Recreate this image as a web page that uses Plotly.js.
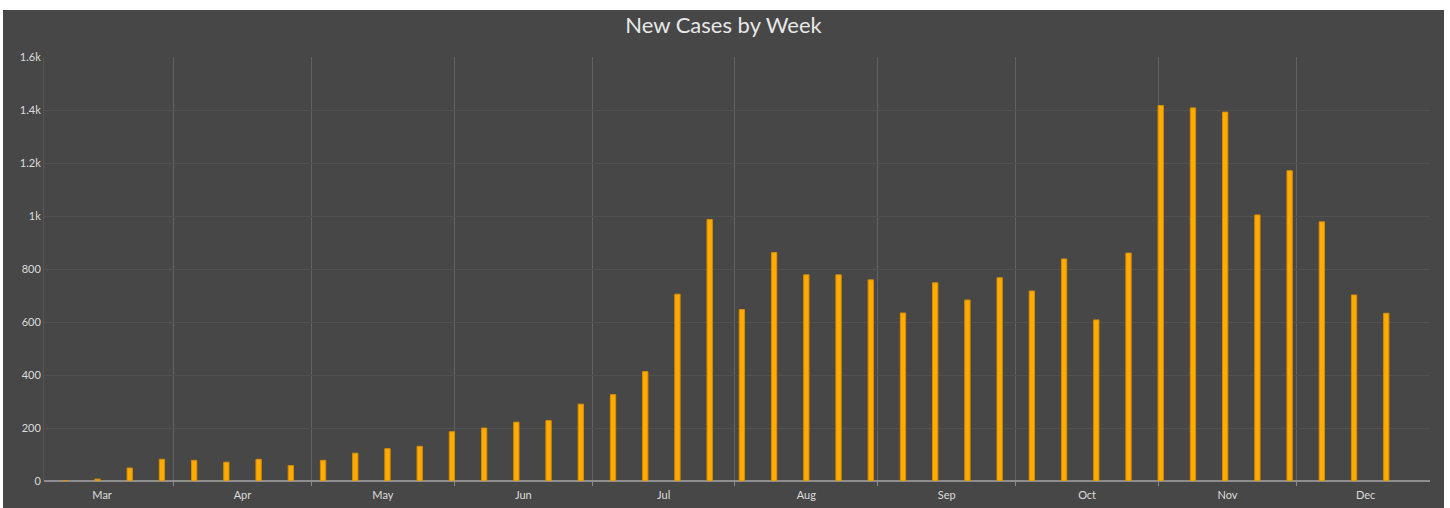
<!DOCTYPE html>
<html>
<head>
<meta charset="utf-8">
<script src="https://cdn.plot.ly/plotly-3.0.1.min.js"></script>
<style>
  html, body { margin: 0; padding: 0; background: #ffffff; width: 1450px; height: 508px; overflow: hidden; }
  #chart { position: absolute; left: 3px; top: 10px; width: 1441px; height: 498px; }
</style>
</head>
<body>
<div id="chart"></div>
<script>
// Week (Sunday) dates
const weekDates = [
  '2020-03-08','2020-03-15','2020-03-22','2020-03-29',
  '2020-04-05','2020-04-12','2020-04-19','2020-04-26',
  '2020-05-03','2020-05-10','2020-05-17','2020-05-24','2020-05-31',
  '2020-06-07','2020-06-14','2020-06-21','2020-06-28',
  '2020-07-05','2020-07-12','2020-07-19','2020-07-26',
  '2020-08-02','2020-08-09','2020-08-16','2020-08-23','2020-08-30',
  '2020-09-06','2020-09-13','2020-09-20','2020-09-27',
  '2020-10-04','2020-10-11','2020-10-18','2020-10-25',
  '2020-11-01','2020-11-08','2020-11-15','2020-11-22','2020-11-29',
  '2020-12-06','2020-12-13','2020-12-20'
];
// New cases per week
const newCases = [
  2, 7, 49, 82,
  78, 71, 82, 58,
  78, 105, 122, 131, 186,
  200, 222, 228, 290,
  326, 413, 705, 987,
  647, 862, 778, 778, 759,
  634, 748, 683, 767,
  717, 838, 608, 860,
  1417, 1408, 1392, 1004, 1171,
  978, 702, 633
];
const chartTitle = 'New Cases by Week';
const xRange = ['2020-03-03 21:00', '2020-12-30 00:00'];
const yRange = [0, 1600];

const DAY = 86400000;
const barWidth = 1.15 * DAY;

const trace = {
  type: 'bar',
  x: weekDates,
  y: newCases,
  width: barWidth,
  offset: -barWidth / 2 + 0.5 * DAY,
  marker: { color: '#ffab00', line: { color: '#d98e00', width: 1 } },
  hoverinfo: 'x+y'
};

const layout = {
  width: 1441,
  height: 498,
  paper_bgcolor: '#474747',
  plot_bgcolor: '#474747',
  margin: { l: 41, r: 14, t: 47, b: 27 },
  showlegend: false,
  font: { family: 'Lato, "Open Sans", sans-serif', color: '#dcdcdc', size: 11 },
  title: {
    text: chartTitle,
    font: { family: 'Lato, "Open Sans", sans-serif', size: 22, color: '#e8e8e8' },
    x: 0.5, xanchor: 'center',
    y: 0.97, yref: 'container', yanchor: 'middle'
  },
  xaxis: {
    type: 'date',
    range: xRange,
    tick0: '2020-01-01',
    dtick: 'M1',
    ticklabelmode: 'period',
    tickformat: '%b',
    showgrid: true,
    gridcolor: '#626262',
    gridwidth: 1,
    ticks: 'outside',
    ticklen: 4,
    tickcolor: '#8a8a8a',
    showline: false,
    zeroline: false,
    tickfont: { size: 11, color: '#dcdcdc' }
  },
  yaxis: {
    range: yRange,
    dtick: 200,
    tickformat: '~s',
    showgrid: true,
    gridcolor: '#515151',
    gridwidth: 1,
    zeroline: true,
    zerolinecolor: '#8e8e8e',
    zerolinewidth: 1.5,
    showline: true,
    linecolor: '#555555',
    ticks: '',
    tickfont: { size: 11, color: '#dcdcdc' }
  },
  bargap: 0
};

Plotly.newPlot('chart', [trace], layout, { displayModeBar: false, staticPlot: true });
</script>
</body>
</html>
